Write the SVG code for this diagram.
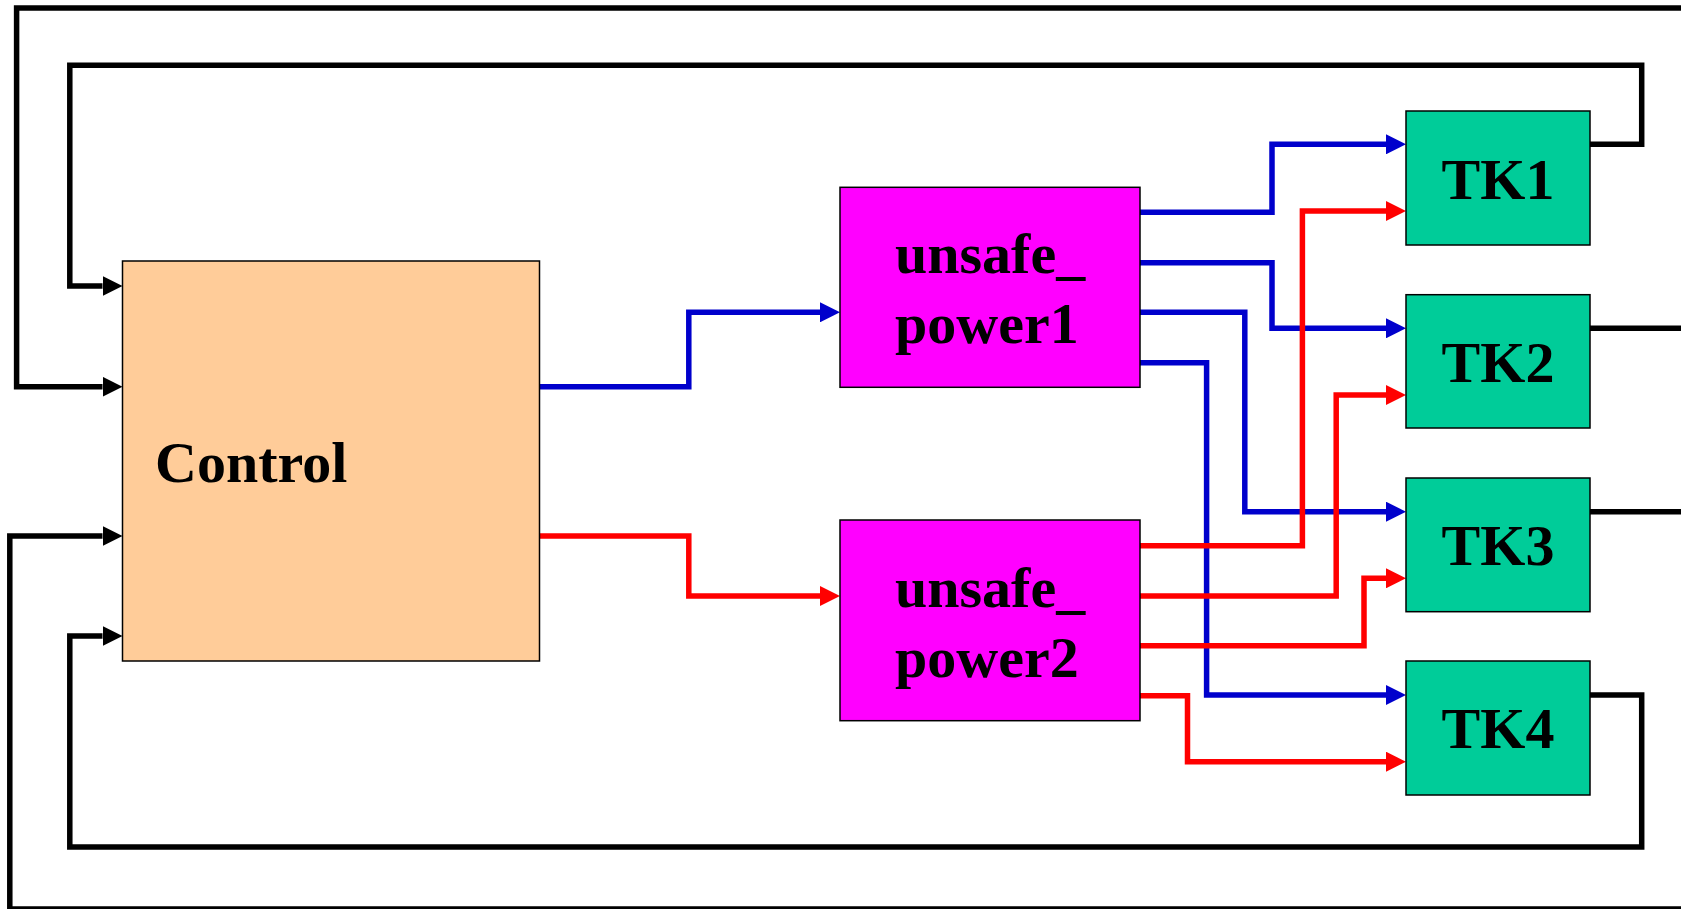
<svg xmlns="http://www.w3.org/2000/svg" width="1681" height="909" viewBox="0 0 1681 909">
<style>
.box{stroke:#000;stroke-width:1.5}
.lbl{font-family:"Liberation Serif","Times New Roman",serif;font-weight:bold;font-size:58px;fill:#000}
.w{fill:none;stroke-width:5.5;stroke-linejoin:miter}
.b{stroke:#0000CC;marker-end:url(#ab)}
.r{stroke:#FF0000;marker-end:url(#ar)}
.k{stroke:#000;marker-end:url(#ak)}
</style>
<defs>
<marker id="ab" markerUnits="userSpaceOnUse" markerWidth="20" markerHeight="20" refX="0" refY="10" orient="auto"><path d="M0,0 L20,10 L0,20 z" fill="#0000CC"/></marker>
<marker id="ar" markerUnits="userSpaceOnUse" markerWidth="20" markerHeight="20" refX="0" refY="10" orient="auto"><path d="M0,0 L20,10 L0,20 z" fill="#FF0000"/></marker>
<marker id="ak" markerUnits="userSpaceOnUse" markerWidth="20" markerHeight="20" refX="0" refY="10" orient="auto"><path d="M0,0 L20,10 L0,20 z" fill="#000"/></marker>
</defs>
<rect width="1681" height="909" fill="#fff"/>
<g id="connectors">
<path class="w k" d="M1590,144.3 H1641.7 V65.3 H69.8 V286 H102.5"/>
<path class="w k" d="M1590,328.3 H1700 V8 H16.6 V386.7 H102.5"/>
<path class="w k" d="M1590,511.7 H1700 V909 H9.8 V536 H102.5"/>
<path class="w k" d="M1590,695 H1641.7 V847 H69.8 V636 H102.5"/>
<path class="w b" d="M539.6,386.7 H688.8 V312.3 H820"/>
<path class="w b" d="M1140,212.3 H1272 V144.3 H1386"/>
<path class="w b" d="M1140,262.7 H1272 V328.3 H1386"/>
<path class="w b" d="M1140,312.3 H1244.8 V511.7 H1386"/>
<path class="w b" d="M1140,362.7 H1206.6 V695 H1386"/>
<path class="w r" d="M539.6,536 H688.8 V596 H820"/>
<path class="w r" d="M1140,545.7 H1302.4 V211 H1386"/>
<path class="w r" d="M1140,596 H1336.2 V395 H1386"/>
<path class="w r" d="M1140,645.7 H1364 V578.3 H1386"/>
<path class="w r" d="M1140,695.7 H1187.5 V761.7 H1386"/>
</g>
<g id="control">
<rect class="box" x="122.5" y="261" width="417" height="400" fill="#FFCC99"/>
<text class="lbl" x="155" y="482">Control</text>
</g>
<g id="unsafe_power1">
<rect class="box" x="840" y="187.3" width="300" height="200" fill="#FF00FF"/>
<text class="lbl" x="895" y="272.7">unsafe_</text>
<text class="lbl" x="895" y="343.3">power1</text>
</g>
<g id="unsafe_power2">
<rect class="box" x="840" y="520" width="300" height="200.7" fill="#FF00FF"/>
<text class="lbl" x="895" y="606.7">unsafe_</text>
<text class="lbl" x="895" y="677.3">power2</text>
</g>
<g id="TK1">
<rect class="box" x="1406" y="111" width="184" height="134" fill="#00CC99"/>
<text class="lbl" x="1498" y="199.3" text-anchor="middle">TK1</text>
</g>
<g id="TK2">
<rect class="box" x="1406" y="294.7" width="184" height="133.3" fill="#00CC99"/>
<text class="lbl" x="1498" y="381.7" text-anchor="middle">TK2</text>
</g>
<g id="TK3">
<rect class="box" x="1406" y="478" width="184" height="133.7" fill="#00CC99"/>
<text class="lbl" x="1498" y="565" text-anchor="middle">TK3</text>
</g>
<g id="TK4">
<rect class="box" x="1406" y="661" width="184" height="134" fill="#00CC99"/>
<text class="lbl" x="1498" y="748.3" text-anchor="middle">TK4</text>
</g>
</svg>
